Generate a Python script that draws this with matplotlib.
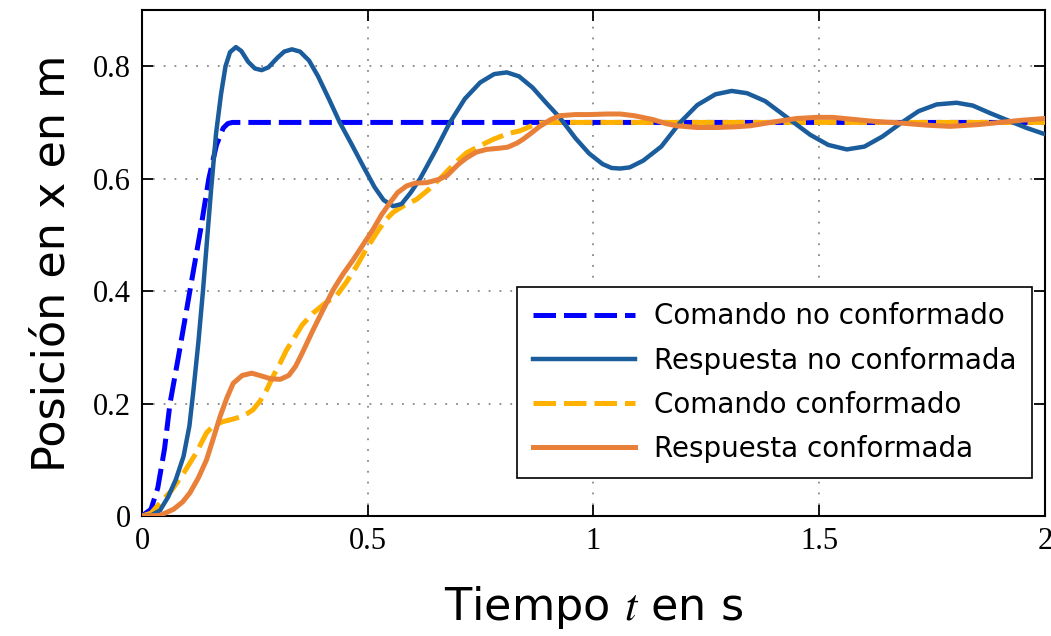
import matplotlib
matplotlib.use("Agg")
import matplotlib.pyplot as plt

# Comando no conformado (blue dashed)
t_cmd_nc = [0, 0.02, 0.035, 0.05, 0.062, 0.08, 0.106, 0.13, 0.148, 0.165, 0.18, 0.19, 0.2, 2.0]
x_cmd_nc = [0, 0.012, 0.05, 0.12, 0.2, 0.28, 0.4, 0.51, 0.6, 0.66, 0.69, 0.698, 0.7, 0.7]

# Respuesta no conformada (blue solid)
t_resp_nc = [0, 0.02, 0.04, 0.058, 0.075, 0.092, 0.105, 0.114, 0.125, 0.135, 0.145, 0.153,
             0.164, 0.175, 0.185, 0.195, 0.208, 0.22, 0.235, 0.25, 0.265, 0.28, 0.3, 0.315,
             0.332, 0.35, 0.37, 0.39, 0.415, 0.438, 0.465, 0.49, 0.515, 0.535, 0.556, 0.575,
             0.595, 0.616, 0.65, 0.682, 0.715, 0.749, 0.78, 0.808, 0.835, 0.865, 0.895, 0.926,
             0.96, 0.99, 1.02, 1.04, 1.059, 1.08, 1.11, 1.15, 1.192, 1.23, 1.27, 1.306, 1.34,
             1.38, 1.435, 1.48, 1.52, 1.561, 1.6, 1.64, 1.683, 1.72, 1.76, 1.804, 1.84, 1.88,
             1.929, 1.96, 2.0]
x_resp_nc = [0, 0.001, 0.01, 0.034, 0.065, 0.106, 0.16, 0.224, 0.31, 0.40, 0.5, 0.58,
             0.68, 0.75, 0.8, 0.825, 0.834, 0.827, 0.808, 0.796, 0.793, 0.798, 0.815, 0.826,
             0.83, 0.826, 0.81, 0.782, 0.74, 0.70, 0.66, 0.622, 0.585, 0.562, 0.551, 0.555,
             0.575, 0.60, 0.65, 0.70, 0.742, 0.771, 0.786, 0.789, 0.782, 0.762, 0.735, 0.708,
             0.672, 0.645, 0.626, 0.619, 0.618, 0.62, 0.632, 0.657, 0.70, 0.731, 0.75, 0.756, 0.752,
             0.738, 0.705, 0.678, 0.66, 0.652, 0.657, 0.675, 0.70, 0.72, 0.732, 0.735, 0.73, 0.716,
             0.70, 0.69, 0.679]

# Comando conformado (yellow dashed)
t_cmd_c = [0, 0.02, 0.04, 0.065, 0.092, 0.12, 0.143, 0.16, 0.18, 0.2, 0.217, 0.235, 0.246,
           0.262, 0.276, 0.29, 0.306, 0.32, 0.335, 0.355, 0.379, 0.405, 0.431, 0.452, 0.475,
           0.497, 0.52, 0.538, 0.556, 0.582, 0.608, 0.634, 0.66, 0.69, 0.719, 0.75, 0.778,
           0.81, 0.837, 0.86, 0.881, 0.9, 2.0]
x_cmd_c = [0, 0.005, 0.023, 0.045, 0.076, 0.112, 0.148, 0.162, 0.168, 0.172, 0.176, 0.183, 0.189,
           0.205, 0.224, 0.248, 0.272, 0.295, 0.314, 0.34, 0.361, 0.378, 0.392, 0.415, 0.444,
           0.475, 0.504, 0.525, 0.54, 0.553, 0.563, 0.58, 0.6, 0.625, 0.646, 0.659, 0.67,
           0.68, 0.685, 0.693, 0.699, 0.7, 0.7]

# Respuesta conformada (orange solid)
t_resp_c = [0, 0.04, 0.07, 0.09, 0.106, 0.125, 0.143, 0.158, 0.173, 0.188, 0.202, 0.222, 0.243,
            0.265, 0.285, 0.306, 0.325, 0.34, 0.355, 0.379, 0.4, 0.424, 0.445, 0.468, 0.49,
            0.512, 0.53, 0.549, 0.566, 0.586, 0.605, 0.631, 0.655, 0.675, 0.7, 0.719, 0.74,
            0.763, 0.79, 0.81, 0.83, 0.844, 0.862, 0.881, 0.905, 0.926, 0.96, 0.992, 1.03,
            1.059, 1.09, 1.132, 1.16, 1.184, 1.23, 1.273, 1.31, 1.347, 1.40, 1.45, 1.494,
            1.53, 1.568, 1.62, 1.679, 1.74, 1.79, 1.85, 1.90, 1.95, 2.0]
x_resp_c = [0, 0.001, 0.012, 0.025, 0.041, 0.068, 0.1, 0.138, 0.177, 0.21, 0.236, 0.25, 0.254,
            0.249, 0.244, 0.243, 0.25, 0.266, 0.29, 0.331, 0.365, 0.403, 0.43, 0.456, 0.483,
            0.51, 0.535, 0.557, 0.575, 0.587, 0.592, 0.593, 0.598, 0.605, 0.625, 0.637, 0.647,
            0.652, 0.654, 0.656, 0.663, 0.67, 0.681, 0.693, 0.705, 0.712, 0.714, 0.714, 0.715,
            0.715, 0.712, 0.705, 0.698, 0.694, 0.691, 0.691, 0.692, 0.694, 0.701, 0.707, 0.709,
            0.709, 0.706, 0.702, 0.699, 0.695, 0.693, 0.696, 0.700, 0.704, 0.707]

x_ticks = [0, 0.5, 1, 1.5, 2]
x_tick_labels = ['0', '0.5', '1', '1.5', '2']
y_ticks = [0, 0.2, 0.4, 0.6, 0.8]
y_tick_labels = ['0', '0.2', '0.4', '0.6', '0.8']

plt.rcParams['mathtext.fontset'] = 'stix'

fig = plt.figure(figsize=(10.51, 6.36), dpi=100)
ax = fig.add_axes([0.1351, 0.1887, 0.8592, 0.7956])

ax.plot(t_cmd_nc, x_cmd_nc, color='#0000ff', lw=3.6, dashes=(4.5, 1.6),
        label='Comando no conformado', zorder=3)
ax.plot(t_resp_nc, x_resp_nc, color='#1a5c9c', lw=3.2,
        label='Respuesta no conformada', zorder=4)
ax.plot(t_cmd_c, x_cmd_c, color='#ffb100', lw=3.6, dashes=(4.5, 1.6),
        label='Comando conformado', zorder=3)
ax.plot(t_resp_c, x_resp_c, color='#e8803a', lw=3.6,
        label='Respuesta conformada', zorder=5)

ax.set_xlim(0, 2)
ax.set_ylim(0, 0.9)
ax.set_xticks(x_ticks)
ax.set_xticklabels(x_tick_labels, family='Liberation Serif', fontsize=22)
ax.set_yticks(y_ticks)
ax.set_yticklabels(y_tick_labels, family='Liberation Serif', fontsize=22)
ax.tick_params(direction='in', length=8, width=1.3, top=True, right=True, pad=8)

ax.grid(True, color='#888888', linestyle=(0, (1, 5)), lw=1.3)
for s in ax.spines.values():
    s.set_linewidth(1.5)

ax.set_xlabel(r'Tiempo $t$ en s', fontsize=32, labelpad=20)
ax.set_ylabel('Posición en x en m', fontsize=32, labelpad=14)

leg = ax.legend(loc='lower right', bbox_to_anchor=(0.9856, 0.075), borderaxespad=0,
                fontsize=20, fancybox=False, edgecolor='black', framealpha=1,
                handlelength=3.7, handletextpad=0.68, labelspacing=0.58, borderpad=0.55)
leg.get_frame().set_linewidth(1.2)

fig.savefig('out.png', dpi=100)
